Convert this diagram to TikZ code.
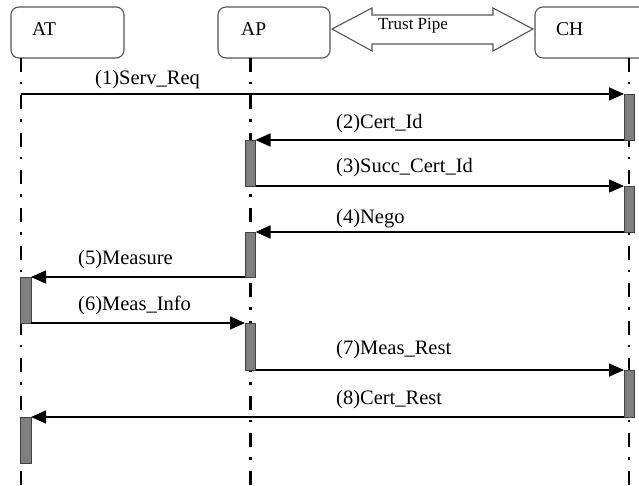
\documentclass[tikz,border=0pt]{standalone}
\usepackage{fontspec}
\setmainfont{Liberation Serif}
\usetikzlibrary{arrows.meta,calc}
\definecolor{boxline}{HTML}{555555}
\definecolor{barfill}{HTML}{7F7F7F}
\begin{document}
\begin{tikzpicture}[x=1pt,y=-1pt,
  objbox/.style={draw=boxline,line width=1.1pt,rounded corners=8pt},
  objlabel/.style={anchor=base west,inner sep=0pt,font=\fontsize{19.5}{20}\selectfont},
  lifeline/.style={line width=2.8pt,dash pattern=on 14pt off 10pt on 2.5pt off 11pt},
  actbar/.style={draw=black!75,line width=0.8pt,fill=barfill,minimum width=10.5pt,inner sep=0pt,outer sep=0pt},
  msg/.style={line width=1.6pt,-{Triangle[length=15pt,width=13pt]}},
  msglabel/.style={anchor=base west,inner sep=0pt,font=\fontsize{20.5}{21}\selectfont},
  pipe/.style={draw=boxline,line width=1.1pt}]
\useasboundingbox (0,0) rectangle (639,486);
\clip (0,0) rectangle (639,486);
% object boxes
\draw[objbox] (11,7) rectangle (124,58);
\draw[objbox] (218,7) rectangle (330,58);
\draw[objbox] (535,7) rectangle (680,58);
\node[objlabel] (atlab) at (32,36) {AT};
\node[objlabel] (aplab) at (241,36) {AP};
\node[objlabel] (chlab) at (556,36) {CH};
% trust pipe
\draw[pipe] (332,29) -- (372,8) -- (372,15) -- (493,15) -- (493,8) -- (533,29)
  -- (493,51) -- (493,44) -- (372,44) -- (372,51) -- cycle;
\node[anchor=base west,inner sep=0pt,font=\fontsize{17}{18}\selectfont] (pipelab) at (378,29.5) {Trust Pipe};
% lifelines
\coordinate (attop) at (21,58);
\coordinate (atbot) at (21,490);
\coordinate (aptop) at (250.5,58);
\coordinate (apbot) at (250.5,490);
\coordinate (chtop) at (629,58);
\coordinate (chbot) at (629,490);
\draw[lifeline] (attop) -- (atbot);
\draw[lifeline] (aptop) -- (apbot);
\draw[lifeline] (chtop) -- (chbot);
% activation bars
\node[actbar,anchor=north west,minimum height=46pt] (ch1) at (624,94) {};
\node[actbar,anchor=north west,minimum height=46pt] (ap1) at (245,140) {};
\node[actbar,anchor=north west,minimum height=46pt] (ch2) at (624,186) {};
\node[actbar,anchor=north west,minimum height=45pt] (ap2) at (245,232) {};
\node[actbar,anchor=north west,minimum height=46pt] (at1) at (20.5,277) {};
\node[actbar,anchor=north west,minimum height=47pt] (ap3) at (245,323) {};
\node[actbar,anchor=north west,minimum height=47pt] (ch3) at (624,370) {};
\node[actbar,anchor=north west,minimum height=46pt] (at2) at (20.5,417) {};
% messages
\draw[msg] (attop |- ch1.north west) -- (ch1.north west);
\draw[msg] (ch1.south west) -- (ap1.north east);
\draw[msg] (ap1.south east) -- (ch2.north west);
\draw[msg] (ch2.south west) -- (ap2.north east);
\draw[msg] (ap2.south west) -- (at1.north east);
\draw[msg] (at1.south east) -- (ap3.north west);
\draw[msg] (ap3.south east) -- (ch3.north west);
\draw[msg] (ch3.south west) -- (at2.north east);
% labels
\node[msglabel] (l1) at (95,85) {(1)Serv\_Req};
\node[msglabel] (l2) at (336,129) {(2)Cert\_Id};
\node[msglabel] (l3) at (336,173) {(3)Succ\_Cert\_Id};
\node[msglabel] (l4) at (336,223) {(4)Nego};
\node[msglabel] (l5) at (78,264) {(5)Measure};
\node[msglabel] (l6) at (78,310) {(6)Meas\_Info};
\node[msglabel] (l7) at (336,354) {(7)Meas\_Rest};
\node[msglabel] (l8) at (336,404) {(8)Cert\_Rest};
\end{tikzpicture}
\end{document}
